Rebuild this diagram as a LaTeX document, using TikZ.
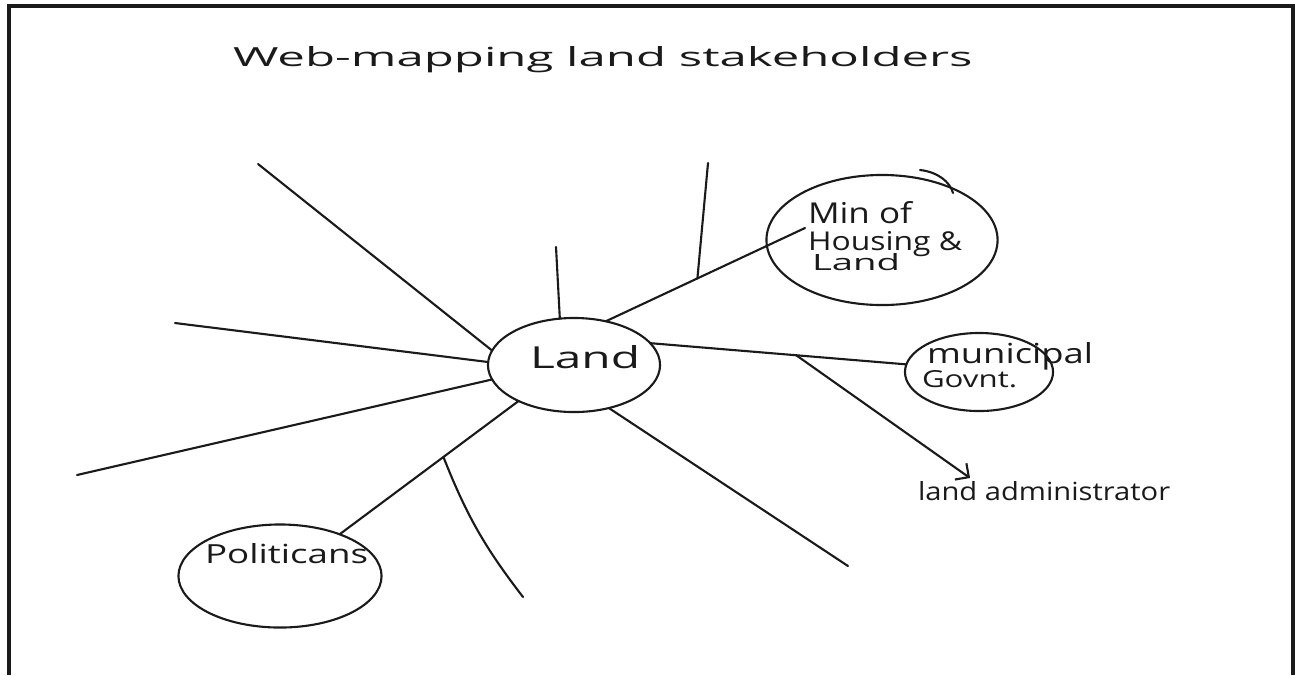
\documentclass[tikz,border=0pt]{standalone}
\usepackage{fontspec}
\setmainfont{Open Sans}
\usetikzlibrary{shapes.geometric,arrows.meta,calc}
\definecolor{ink}{HTML}{1A1A1A}
\newcommand{\hwtext}[3]{\resizebox{#1}{#2}{#3}}
\tikzset{
  bub/.style={draw=ink, line width=0.6pt, ellipse, inner sep=0pt, outer sep=0pt},
  spoke/.style={draw=ink, line width=0.6pt, line cap=round},
  txt/.style={inner sep=0pt, outer sep=0pt, anchor=base west, text=ink},
  frameline/.style={draw=ink, line width=0.9pt}
}
\begin{document}
\begin{tikzpicture}[x=0.01cm, y=-0.01cm]
\useasboundingbox (0,0) rectangle (1295,675);
% frame
\draw[frameline] (9,675) -- (9,6) -- (1293,6) -- (1293,675);
% title
\node[txt] (title) at (233,66) {\hwtext{7.39cm}{0.20cm}{Web-mapping land stakeholders}};
% bubbles
\node[bub, minimum width=1.72cm, minimum height=0.94cm] (land) at (574,365) {};
\node[bub, minimum width=2.31cm, minimum height=1.30cm] (min) at (882,240) {};
\node[bub, minimum width=1.48cm, minimum height=0.78cm] (muni) at (979,372) {};
\node[bub, minimum width=2.03cm, minimum height=1.03cm] (pol) at (280,576) {};
% texts
\node[txt] (landT) at (530,368) {\hwtext{1.10cm}{0.23cm}{Land}};
\node[txt] (minT1) at (808,223) {\hwtext{1.04cm}{0.22cm}{Min of}};
\node[txt] (minT2) at (808,250) {\hwtext{1.54cm}{0.19cm}{Housing \&}};
\node[txt] (minT3) at (812,270) {\hwtext{0.88cm}{0.17cm}{Land}};
\node[txt] (munT1) at (927,363) {\hwtext{1.66cm}{0.21cm}{municipal}};
\node[txt] (munT2) at (922,387) {\hwtext{0.95cm}{0.17cm}{Govnt.}};
\node[txt] (admT) at (918,500) {\hwtext{2.52cm}{0.19cm}{land administrator}};
\node[txt] (polT) at (205,563) {\hwtext{1.63cm}{0.20cm}{Politicans}};
% free ends
\coordinate (sUL) at (258,164);
\coordinate (sL) at (175,323);
\coordinate (sLL) at (77,475);
\coordinate (sU) at (556,247);
\coordinate (sLR) at (848,566);
\coordinate (minEnd) at ($(min.center)+(-77,-12)$);
\coordinate (tMin) at (708,163);
\coordinate (admTip) at (970,478);
\coordinate (tPol) at (523,597);
% spokes
\draw[spoke] (sUL) -- (land.170);
\draw[spoke] (sL) -- (land.178);
\draw[spoke] (sLL) -- (land.190);
\draw[spoke] (sU) -- (land.107);
\draw[spoke] (land.-51) -- (sLR);
% connectors
\draw[spoke] (land.54) -- (minEnd);
\coordinate (bMin) at ($(land.54)!0.46!(minEnd)$);
\draw[spoke] (bMin) -- (tMin);
\draw[spoke] (land.16) -- (muni.174);
\coordinate (bMun) at ($(land.16)!0.57!(muni.174)$);
\draw[spoke, -{Straight Barb[angle=90:4pt]}] (bMun) -- (admTip);
\draw[spoke] (land.213) -- (pol.35);
\coordinate (bPol) at ($(land.213)!0.42!(pol.35)$);
\draw[spoke] (bPol) to[bend right=8] (tPol);
% stray stroke on the Min bubble
\draw[spoke] (920,170) .. controls (938,172) and (950,182) .. (953,193);
\end{tikzpicture}
\end{document}
